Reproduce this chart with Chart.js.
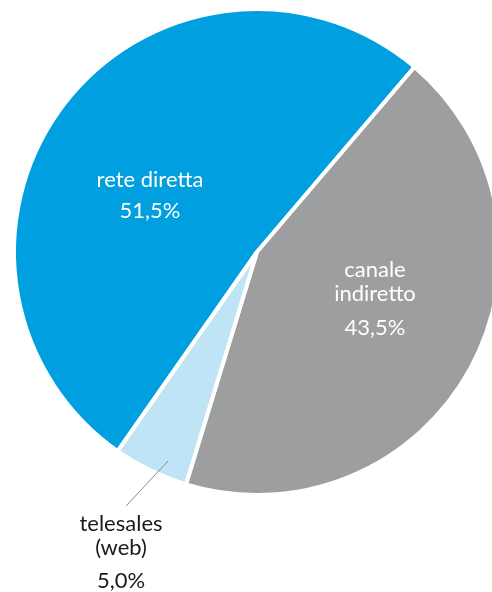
<!DOCTYPE html>
<html lang="it">
<head>
<meta charset="utf-8">
<title>Canali di vendita</title>
<script src="https://cdn.jsdelivr.net/npm/chart.js@4/dist/chart.umd.min.js"></script>
<style>
  html, body { margin: 0; padding: 0; background: #fff; overflow: hidden; }
  #wrap { position: relative; width: 514px; height: 592px; }
</style>
</head>
<body>
<div id="wrap"><canvas id="pie"></canvas></div>
<script>
  // data
  var categories = ['rete diretta', 'canale indiretto', 'telesales (web)'];
  var shares     = [51.5, 43.5, 5.0];
  var colors     = ['#009fdf', '#9d9ea0', '#bee4f6'];

  // label lines per slice + where to put them (pixels)
  var labelLines = [['rete diretta'], ['canale', 'indiretto'], ['telesales', '(web)']];
  var labelSpots = [
    { x: 150, y: 180, color: '#ffffff', pctGap: 31 },
    { x: 375, y: 270, color: '#ffffff', pctGap: 34 },
    { x: 121, y: 524, color: '#1a1a1a', pctGap: 33 }
  ];

  function fmt(v) { return v.toFixed(1).replace('.', ',') + '%'; }

  var sliceLabels = {
    id: 'sliceLabels',
    afterDatasetsDraw: function (chart) {
      var ctx = chart.ctx;
      ctx.save();

      // leader line for the small slice
      ctx.strokeStyle = '#8c8c8c';
      ctx.lineWidth = 1;
      ctx.beginPath();
      ctx.moveTo(168, 461);
      ctx.lineTo(126, 506);
      ctx.stroke();

      ctx.font = '22px Lato, "Open Sans", sans-serif';
      ctx.textAlign = 'center';
      ctx.textBaseline = 'middle';
      labelSpots.forEach(function (s, i) {
        ctx.fillStyle = s.color;
        var lines = labelLines[i];
        lines.forEach(function (t, j) {
          ctx.fillText(t, s.x, s.y + j * 24);
        });
        var last = s.y + (lines.length - 1) * 24;
        ctx.fillText(fmt(shares[i]), s.x, last + s.pctGap);
      });
      ctx.restore();
    }
  };

  new Chart(document.getElementById('pie'), {
    type: 'pie',
    data: {
      labels: categories,
      datasets: [{
        data: shares,
        backgroundColor: colors,
        borderColor: '#ffffff',
        borderWidth: 4,
        hoverOffset: 0
      }]
    },
    options: {
      responsive: true,
      maintainAspectRatio: false,
      animation: false,
      rotation: 215,
      layout: { padding: { left: 12, right: 12, top: 7, bottom: 95 } },
      plugins: {
        legend: { display: false },
        tooltip: { enabled: false }
      }
    },
    plugins: [sliceLabels]
  });
</script>
</body>
</html>
